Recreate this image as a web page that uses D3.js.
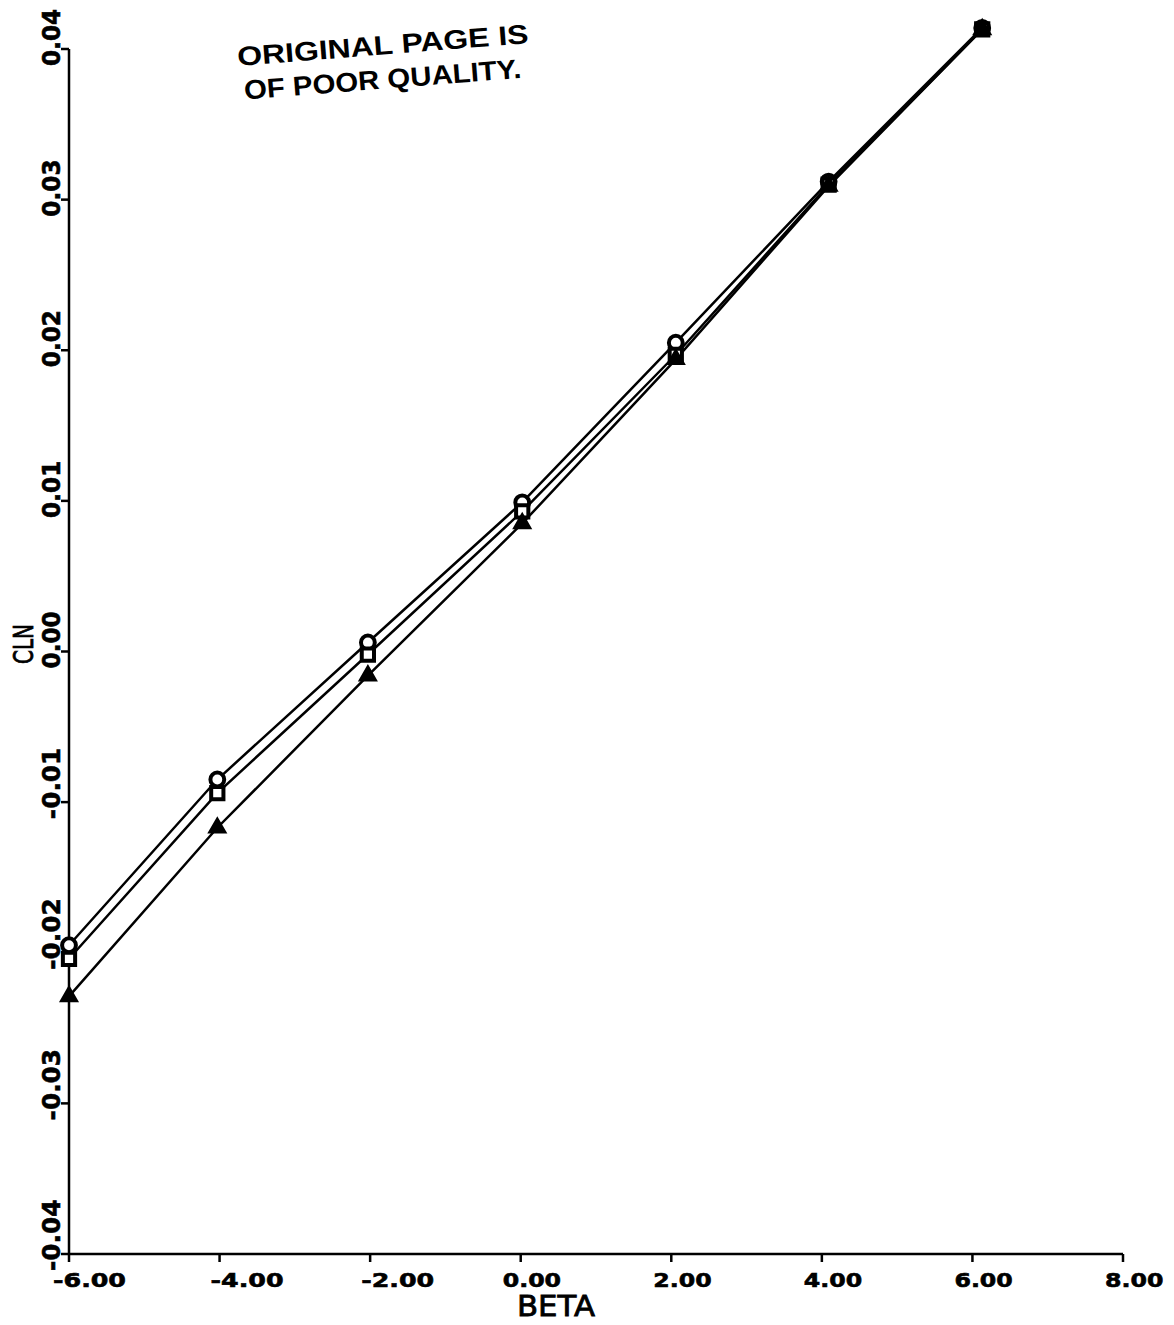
<!DOCTYPE html>
<html><head><meta charset="utf-8">
<script src="https://cdn.jsdelivr.net/npm/d3@7"></script>
<style>body{margin:0;background:#fff}svg{display:block}</style>
</head><body>
<script>
const xTicks = [-6, -4, -2, 0, 2, 4, 6, 8];
const xTickLabels = ["-6.00", "-4.00", "-2.00", "0.00", "2.00", "4.00", "6.00", "8.00"];
const yTicks = [-0.04, -0.03, -0.02, -0.01, 0.00, 0.01, 0.02, 0.03, 0.04];
const yTickLabels = ["-0.04", "-0.03", "-0.02", "-0.01", "0.00", "0.01", "0.02", "0.03", "0.04"];
const beta = [-6.0, -4.03, -2.03, 0.02, 2.06, 4.09, 6.13];
const clnCircle   = [-0.0195, -0.0085, 0.0006, 0.0099, 0.0205, 0.0312, 0.0414];
const clnSquare   = [-0.0204, -0.0094, -0.0002, 0.0093, 0.0197, 0.0310, 0.0413];
const clnTriangle = [-0.0229, -0.0117, -0.0016, 0.0085, 0.0194, 0.0309, 0.0413];
const series = [
  {name: "circle", values: clnCircle},
  {name: "square", values: clnSquare},
  {name: "triangle", values: clnTriangle}
];
const W = 1174, H = 1325;
const svg = d3.select("body").append("svg").attr("width", W).attr("height", H);
const x = d3.scaleLinear().domain([-6, 8]).range([69, 1123]);
const y = d3.scaleLinear().domain([-0.04, 0.04]).range([1254, 49]);
const font = "'DejaVu Sans', sans-serif";

// axes
svg.append("line").attr("x1", x(-6)).attr("x2", x(8)).attr("y1", y(-0.04)).attr("y2", y(-0.04))
  .attr("stroke", "#000").attr("stroke-width", 2.5);
svg.append("line").attr("x1", x(-6)).attr("x2", x(-6)).attr("y1", y(-0.04)).attr("y2", y(0.04))
  .attr("stroke", "#000").attr("stroke-width", 2.5);
xTicks.forEach((t, i) => {
  svg.append("line").attr("x1", x(t)).attr("x2", x(t)).attr("y1", y(-0.04)).attr("y2", y(-0.04) + 8)
    .attr("stroke", "#000").attr("stroke-width", 2.5);
  const lab = xTickLabels[i];
  const neg = lab[0] === "-";
  svg.append("text").attr("x", x(t) - (neg ? (t === -6 ? 16 : 9) : 18)).attr("y", 1287)
    .attr("font-family", font).attr("font-weight", "bold").attr("font-size", 20)
    .attr("stroke", "#000").attr("stroke-width", 0.6)
    .attr("textLength", lab.length * 14.6).attr("lengthAdjust", "spacingAndGlyphs")
    .text(lab);
});
yTicks.forEach((t, i) => {
  svg.append("line").attr("x1", x(-6)).attr("x2", x(-6) - 8).attr("y1", y(t)).attr("y2", y(t))
    .attr("stroke", "#000").attr("stroke-width", 2.5);
  const lab = yTickLabels[i];
  svg.append("text").attr("transform", `translate(60,${y(t) + 17}) rotate(-90)`)
    .attr("font-family", font).attr("font-weight", "bold").attr("font-size", 25)
    .attr("stroke", "#000").attr("stroke-width", 0.6)
    .attr("textLength", lab.length * 14.3).attr("lengthAdjust", "spacingAndGlyphs")
    .text(lab);
});
svg.append("text").attr("transform", "translate(33,664) rotate(-90)")
  .attr("font-family", font).attr("font-size", 27).attr("stroke", "#000").attr("stroke-width", 0.8)
  .attr("textLength", 40).attr("lengthAdjust", "spacingAndGlyphs").text("CLN");
svg.append("text").attr("x", 517).attr("y", 1316)
  .attr("font-family", font).attr("font-size", 28).attr("stroke", "#000").attr("stroke-width", 0.8)
  .attr("textLength", 78).attr("lengthAdjust", "spacingAndGlyphs").text("BETA");

// lines
const line = d3.line().x((d, i) => x(beta[i])).y(d => y(d));
series.forEach(s => {
  svg.append("path").datum(s.values).attr("d", line).attr("fill", "none")
    .attr("stroke", "#000").attr("stroke-width", 2.5);
});
// markers
const sym = {circle: d3.symbolCircle, square: d3.symbolSquare, triangle: d3.symbolTriangle};
series.forEach(s => {
  svg.append("g").selectAll("path").data(s.values).join("path")
    .attr("transform", (d, i) => `translate(${x(beta[i])},${y(d)})`)
    .attr("d", d3.symbol().type(sym[s.name]).size(s.name === "triangle" ? 75 : 150))
    .attr("fill", s.name === "triangle" ? "#000" : "#fff")
    .attr("stroke", "#000").attr("stroke-width", 4);
});

// stamp
const stamp = svg.append("g").attr("transform", "translate(238,66) rotate(-4.5)");
stamp.append("text").attr("x", 0).attr("y", 0)
  .attr("font-family", "'Liberation Sans', Arial, sans-serif").attr("font-weight", "bold").attr("font-size", 27)
  .attr("textLength", 292).attr("lengthAdjust", "spacingAndGlyphs").text("ORIGINAL PAGE IS");
stamp.append("text").attr("x", 4).attr("y", 34)
  .attr("font-family", "'Liberation Sans', Arial, sans-serif").attr("font-weight", "bold").attr("font-size", 27)
  .attr("textLength", 278).attr("lengthAdjust", "spacingAndGlyphs").text("OF POOR QUALITY.");
</script>
</body></html>
